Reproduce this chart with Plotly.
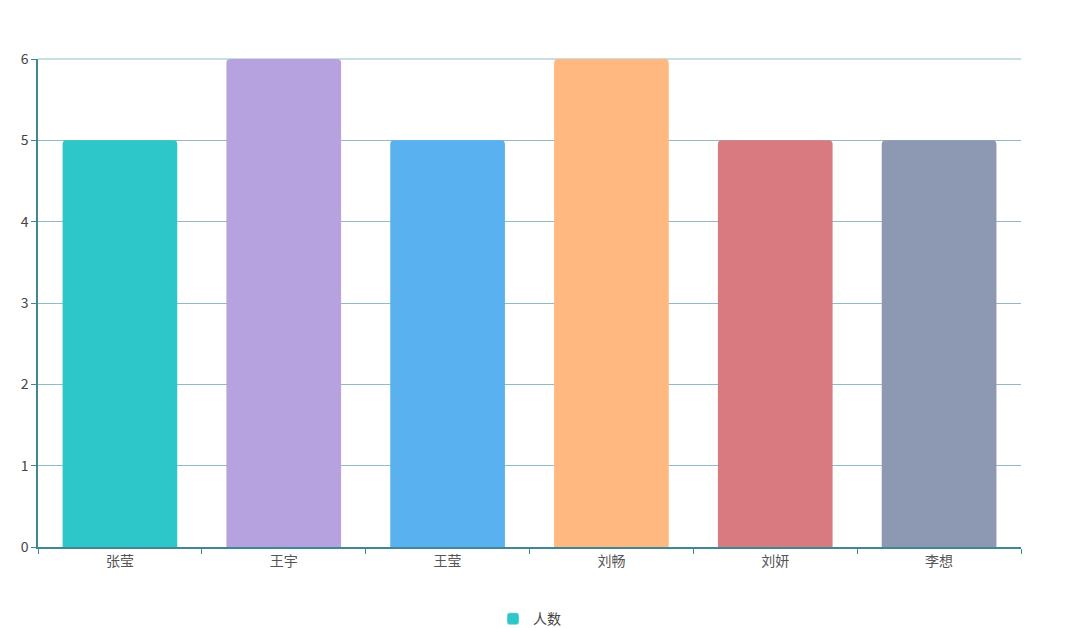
import plotly.graph_objects as go

categories = ["张莹", "王宇", "王莹", "刘畅", "刘妍", "李想"]
values = [5, 6, 5, 6, 5, 5]
colors = ["#2ec7c9", "#b6a2de", "#5ab1ef", "#ffb980", "#d87a80", "#8d98b3"]
series_name = "人数"
y_ticks = [0, 1, 2, 3, 4, 5, 6]

fig = go.Figure()
fig.add_trace(go.Bar(
    x=categories, y=values, name=series_name,
    marker=dict(color=colors, cornerradius=4, line=dict(width=0)),
    width=0.7, showlegend=False,
))
fig.add_trace(go.Bar(
    x=[None], y=[None], name=series_name,
    marker=dict(color=colors[0], cornerradius=3), showlegend=True,
))

# top gridline on the upper edge of the plot (Plotly hides the gridline sitting on the edge)
fig.add_shape(type="line", xref="paper", x0=0, x1=1, yref="paper",
              y0=1, y1=1, layer="below",
              line=dict(color="#8fbcc4", width=1))

fig.update_layout(
    width=1080, height=628,
    margin=dict(l=30, r=67, t=51, b=89, autoexpand=False),
    plot_bgcolor="white", paper_bgcolor="white",
    font=dict(family="Noto Sans CJK SC, sans-serif", size=14, color="#555"),
    bargap=0.3,
    legend=dict(orientation="h", x=0.5, xanchor="center", y=-0.115, yanchor="top",
                font=dict(size=14, color="#444"), itemwidth=30),
    xaxis=dict(showgrid=False, showline=True, linecolor="#3f8893", linewidth=1.5,
               ticks="outside", tickson="boundaries", ticklen=5, tickcolor="#3f8893",
               tickfont=dict(size=14, color="#555")),
    yaxis=dict(range=[0, 6], tickvals=y_ticks, showgrid=True,
               gridcolor="#8fbcc4", gridwidth=1,
               showline=True, linecolor="#3f8893", linewidth=1.5, zeroline=False,
               ticks="outside", ticklen=5, tickcolor="#3f8893",
               tickfont=dict(size=14, color="#444")),
)
fig.write_html("out.html")
